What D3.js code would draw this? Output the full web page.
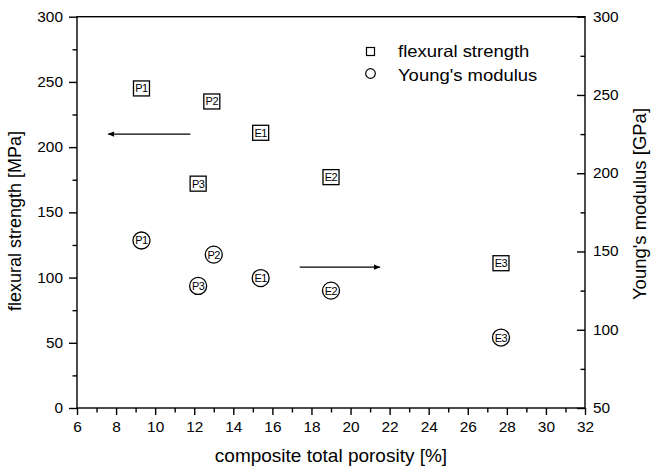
<!DOCTYPE html>
<html>
<head>
<meta charset="utf-8">
<script src="https://cdn.jsdelivr.net/npm/d3@7"></script>
<style>
  html, body { margin: 0; padding: 0; background: #fff; }
  text { font-family: "Liberation Sans", Arial, sans-serif; fill: #000; }
</style>
</head>
<body>
<svg id="chart" width="653" height="470"></svg>
<script>
// Sample labels and measured values
const samples = ["P1", "P2", "P3", "E1", "E2", "E3"];
const porosity = [9.3, 12.9, 12.2, 15.4, 19.0, 27.7];
const porosityModulus = [9.3, 13.0, 12.2, 15.4, 19.0, 27.7];
const flexuralStrength = [245, 235, 172, 211, 177, 111];
const youngsModulus = [157, 148, 128, 133, 125, 95];

const xTicks = [6, 8, 10, 12, 14, 16, 18, 20, 22, 24, 26, 28, 30, 32];
const leftTicks = [0, 50, 100, 150, 200, 250, 300];
const rightTicks = [50, 100, 150, 200, 250, 300];

const svg = d3.select("#chart");
const m = { left: 77, right: 585, top: 16.7, bottom: 408 };

const x = d3.scaleLinear().domain([6, 32]).range([m.left, m.right]);
const yL = d3.scaleLinear().domain([0, 300]).range([m.bottom, m.top]);
const yR = d3.scaleLinear().domain([50, 300]).range([m.bottom, m.top]);

const TICK_FONT = 14;
const TICK_STRETCH = 1.1;

// frame
svg.append("rect")
  .attr("x", m.left).attr("y", m.top)
  .attr("width", m.right - m.left).attr("height", m.bottom - m.top)
  .attr("fill", "none").attr("stroke", "#000").attr("stroke-width", 1.4);

function styleAxis(g) {
  g.selectAll("path").remove();
  g.selectAll("line").attr("stroke", "#000").attr("stroke-width", 1.4);
  g.selectAll("text").style("font-size", TICK_FONT + "px");
}

// widen tick labels slightly about their own anchor point
function stretchLabels(g) {
  g.selectAll("text").each(function () {
    const t = d3.select(this);
    const tx = +t.attr("x") || 0, ty = +t.attr("y") || 0;
    t.attr("x", 0).attr("y", 0)
      .attr("transform", `translate(${tx},${ty}) scale(${TICK_STRETCH},1)`);
  });
}

// bottom axis: major + minor ticks pointing out
svg.append("g").attr("transform", `translate(0,${m.bottom})`)
  .call(d3.axisBottom(x).tickValues(d3.range(7, 32, 2)).tickSize(4.5).tickFormat(""))
  .call(styleAxis);
svg.append("g").attr("transform", `translate(0,${m.bottom})`)
  .call(d3.axisBottom(x).tickValues(xTicks).tickSize(7).tickPadding(7).tickFormat(d3.format("d")))
  .call(styleAxis).call(stretchLabels);

// left axis
svg.append("g").attr("transform", `translate(${m.left},0)`)
  .call(d3.axisLeft(yL).tickValues(d3.range(25, 300, 50)).tickSize(4.5).tickFormat(""))
  .call(styleAxis);
svg.append("g").attr("transform", `translate(${m.left},0)`)
  .call(d3.axisLeft(yL).tickValues(leftTicks).tickSize(8).tickPadding(6).tickFormat(d3.format("d")))
  .call(styleAxis).call(stretchLabels);

// right axis: ticks point inward, labels outside
svg.append("g").attr("transform", `translate(${m.right},0)`)
  .call(d3.axisRight(yR).tickValues(d3.range(75, 300, 50)).tickSizeInner(-4.5).tickFormat(""))
  .call(styleAxis);
const rAx = svg.append("g").attr("transform", `translate(${m.right},0)`)
  .call(d3.axisRight(yR).tickValues(rightTicks).tickSizeInner(-8).tickPadding(15).tickFormat(d3.format("d")))
  .call(styleAxis);
rAx.selectAll("text").attr("x", 8);
rAx.call(stretchLabels);

// axis titles
svg.append("text").attr("x", 331).attr("y", 462)
  .attr("text-anchor", "middle").style("font-size", "19px")
  .text("composite total porosity [%]");
svg.append("text")
  .attr("transform", "translate(21,221) rotate(-90)")
  .attr("text-anchor", "middle").style("font-size", "18px")
  .text("flexural strength [MPa]");
svg.append("text")
  .attr("transform", "translate(646,204) rotate(-90)")
  .attr("text-anchor", "middle").style("font-size", "18.5px")
  .text("Young's modulus [GPa]");

// arrows pointing to the relevant axis
const defs = svg.append("defs");
defs.append("marker").attr("id", "ah").attr("viewBox", "0 0 10 10")
  .attr("refX", 9).attr("refY", 5).attr("markerWidth", 7).attr("markerHeight", 5)
  .attr("orient", "auto")
  .append("path").attr("d", "M0,1 L10,5 L0,9 z").attr("fill", "#000");

svg.append("line")
  .attr("x1", x(11.8)).attr("x2", x(7.6)).attr("y1", yL(210)).attr("y2", yL(210))
  .attr("stroke", "#000").attr("stroke-width", 1.3).attr("marker-end", "url(#ah)");
svg.append("line")
  .attr("x1", x(17.4)).attr("x2", x(21.5)).attr("y1", yR(140)).attr("y2", yR(140))
  .attr("stroke", "#000").attr("stroke-width", 1.3).attr("marker-end", "url(#ah)");

// flexural strength: squares
const sq = svg.append("g").selectAll("g").data(samples).join("g")
  .attr("transform", (d, i) => `translate(${x(porosity[i])},${yL(flexuralStrength[i])})`);
sq.append("rect").attr("x", -8).attr("y", -7.5).attr("width", 16).attr("height", 15)
  .attr("fill", "#fff").attr("stroke", "#000").attr("stroke-width", 1.3);
sq.append("text").attr("text-anchor", "middle").attr("dy", "0.36em")
  .style("font-size", "11px").style("letter-spacing", "-0.5px").text(d => d);

// Young's modulus: circles
const ci = svg.append("g").selectAll("g").data(samples).join("g")
  .attr("transform", (d, i) => `translate(${x(porosityModulus[i])},${yR(youngsModulus[i])})`);
ci.append("circle").attr("r", 8.5)
  .attr("fill", "#fff").attr("stroke", "#000").attr("stroke-width", 1.3);
ci.append("text").attr("text-anchor", "middle").attr("dy", "0.36em")
  .style("font-size", "11px").style("letter-spacing", "-0.5px").text(d => d);

// legend
const lg = svg.append("g");
lg.append("rect").attr("x", 366.5).attr("y", 47.5).attr("width", 8).attr("height", 8)
  .attr("fill", "none").attr("stroke", "#000").attr("stroke-width", 1.2);
lg.append("text").attr("transform", "translate(398,57) scale(1.12,1)")
  .style("font-size", "16.5px").text("flexural strength");
lg.append("circle").attr("cx", 370.5).attr("cy", 73.5).attr("r", 4.8)
  .attr("fill", "none").attr("stroke", "#000").attr("stroke-width", 1.2);
lg.append("text").attr("transform", "translate(398,81) scale(1.12,1)")
  .style("font-size", "16.5px").text("Young's modulus");
</script>
</body>
</html>
